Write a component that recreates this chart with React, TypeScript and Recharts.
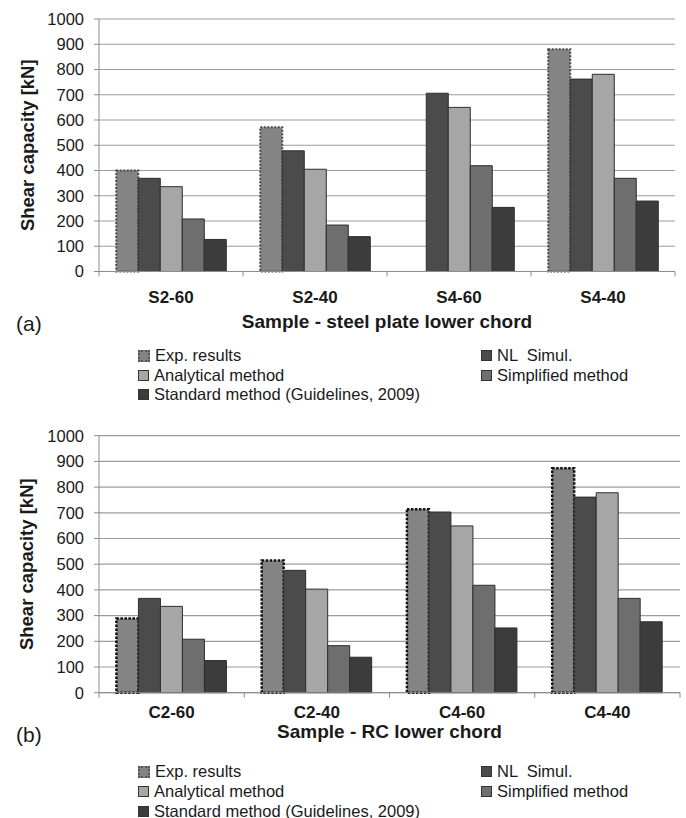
import React from "react";
import { BarChart, Bar, XAxis, YAxis, CartesianGrid, Label } from "recharts";

const CATS_A = ["S2-60", "S2-40", "S4-60", "S4-40"];
const EXP_A = [400, 571, null, 880];
const NL_A = [369, 478, 706, 762];
const ANA_A = [336, 405, 650, 781];
const SIMP_A = [208, 184, 419, 369];
const STD_A = [127, 138, 254, 279];

const CATS_B = ["C2-60", "C2-40", "C4-60", "C4-40"];
const EXP_B = [289, 514, 714, 873];
const NL_B = [367, 476, 703, 761];
const ANA_B = [336, 403, 649, 778];
const SIMP_B = [208, 183, 418, 367];
const STD_B = [125, 138, 252, 276];

const Y_TICKS = [0, 100, 200, 300, 400, 500, 600, 700, 800, 900, 1000];

const SERIES = [
  { key: "exp", name: "Exp. results", color: "#848484" },
  { key: "nl", name: "NL  Simul.", color: "#4b4b4b" },
  { key: "ana", name: "Analytical method", color: "#a6a6a6" },
  { key: "simp", name: "Simplified method", color: "#6e6e6e" },
  { key: "std", name: "Standard method (Guidelines, 2009)", color: "#3c3c3c" },
];

const FONT = "'Liberation Sans', Arial, sans-serif";

function buildRows(cats: string[], exp: (number | null)[], nl: number[], ana: number[], simp: number[], std: number[]) {
  return cats.map((c, i) => ({ name: c, exp: exp[i], nl: nl[i], ana: ana[i], simp: simp[i], std: std[i] }));
}

const CatTick = (props: any) => {
  const { x, y, payload, index, visibleTicksCount, labelDy } = props;
  const half = payload?.offset ?? 72;
  const last = index === (visibleTicksCount ?? 4) - 1;
  const ay = y - 8; // axis line position
  return (
    <g>
      <line x1={x - half} x2={x - half} y1={ay} y2={ay + 5} stroke="#8c8c8c" />
      {last && <line x1={x + half} x2={x + half} y1={ay} y2={ay + 5} stroke="#8c8c8c" />}
      <text x={x} y={ay + labelDy} textAnchor="middle" fontFamily={FONT} fontWeight="bold" fontSize={17} fill="#1a1a1a">
        {payload.value}
      </text>
    </g>
  );
};

const YLabel = (props: any) => {
  const vb = props.viewBox || {};
  const cy = vb.y + vb.height / 2;
  const cx = 27;
  return (
    <text
      x={cx}
      y={cy}
      transform={`rotate(-90, ${cx}, ${cy})`}
      textAnchor="middle"
      dominantBaseline="central"
      fontFamily={FONT}
      fontWeight="bold"
      fontSize={18.5}
      fill="#1a1a1a"
    >
      Shear capacity [kN]
    </text>
  );
};

function Panel({ data, height, top, plotH, right, expStroke, expWidth, expDash, labelDy }: any) {
  const xH = height - top - plotH;
  return (
    <BarChart
      width={686}
      height={height}
      data={data}
      margin={{ top, right, left: 0, bottom: 0 }}
      barCategoryGap="12%"
      barGap={0}
    >
      <CartesianGrid vertical={false} stroke="#9c9c9c" strokeWidth={1.2} />
      <XAxis
        dataKey="name"
        height={xH}
        stroke="#8c8c8c"
        tickLine={false}
        tickSize={6}
        tickMargin={2}
        tick={<CatTick labelDy={labelDy} />}
        interval={0}
      />
      <YAxis
        width={99}
        domain={[0, 1000]}
        ticks={Y_TICKS}
        interval={0}
        stroke="#8c8c8c"
        tickSize={5}
        tickMargin={10}
        tick={{ fontSize: 16.5, fill: "#1a1a1a", fontFamily: FONT }}
      >
        <Label content={<YLabel />} />
      </YAxis>
      <Bar
        dataKey="exp"
        fill={SERIES[0].color}
        stroke={expStroke}
        strokeWidth={expWidth}
        strokeDasharray={expDash}
        isAnimationActive={false}
      />
      {SERIES.slice(1).map((s) => (
        <Bar key={s.key} dataKey={s.key} fill={s.color} stroke="#2e2e2e" strokeWidth={1} isAnimationActive={false} />
      ))}
    </BarChart>
  );
}

const Marker = ({ color, dotted }: any) => (
  <span
    style={{
      display: "inline-block",
      width: dotted ? 8 : 9,
      height: dotted ? 8 : 9,
      background: color,
      border: dotted ? "2px dotted #555" : "1px solid #333",
      marginRight: 5,
      verticalAlign: "middle",
      position: "relative",
      top: -1,
    }}
  />
);

function LegendBlock({ centers }: { centers: number[] }) {
  const item = (s: any, x: number, cy: number, dotted = false) => (
    <div
      key={s.key}
      style={{
        position: "absolute",
        left: x,
        top: cy - 9,
        whiteSpace: "pre",
        fontSize: 16.5,
        lineHeight: "18px",
        color: "#1a1a1a",
      }}
    >
      <Marker color={s.color} dotted={dotted} />
      {s.name}
    </div>
  );
  return (
    <>
      {item(SERIES[0], 138, centers[0], true)}
      {item(SERIES[1], 481, centers[0])}
      {item(SERIES[2], 138, centers[1])}
      {item(SERIES[3], 481, centers[1])}
      {item(SERIES[4], 138, centers[2])}
    </>
  );
}

const tagStyle: React.CSSProperties = { position: "absolute", left: 16, fontSize: 21, lineHeight: "24px", color: "#1a1a1a" };
const titleStyle: React.CSSProperties = {
  position: "absolute",
  left: 99,
  textAlign: "center",
  fontSize: 19,
  lineHeight: "22px",
  fontWeight: "bold",
  color: "#1a1a1a",
  whiteSpace: "nowrap",
};

export default function App() {
  const dataA = buildRows(CATS_A, EXP_A, NL_A, ANA_A, SIMP_A, STD_A);
  const dataB = buildRows(CATS_B, EXP_B, NL_B, ANA_B, SIMP_B, STD_B);
  return (
    <div style={{ position: "absolute", left: 0, top: 0, width: 686, height: 818, background: "#fff", fontFamily: FONT, overflow: "hidden" }}>
      <div style={{ position: "absolute", left: 0, top: 0 }}>
        <Panel
          data={dataA}
          height={310}
          top={19}
          plotH={252.5}
          right={11}
          expStroke="#4a4a4a"
          expWidth={2}
          expDash="2 1.5"
          labelDy={31}
        />
      </div>
      <div style={{ ...tagStyle, top: 312 }}>(a)</div>
      <div style={{ ...titleStyle, width: 576, top: 311 }}>Sample - steel plate lower chord</div>
      <LegendBlock centers={[355, 374.5, 394]} />

      <div style={{ position: "absolute", left: 0, top: 400 }}>
        <Panel
          data={dataB}
          height={328}
          top={35.7}
          plotH={257}
          right={6}
          expStroke="#111"
          expWidth={2.5}
          expDash="2.5 1.5"
          labelDy={25.5}
        />
      </div>
      <div style={{ ...tagStyle, top: 723 }}>(b)</div>
      <div style={{ ...titleStyle, width: 581, top: 721 }}>Sample - RC lower chord</div>
      <LegendBlock centers={[771, 791, 810.5]} />
    </div>
  );
}
